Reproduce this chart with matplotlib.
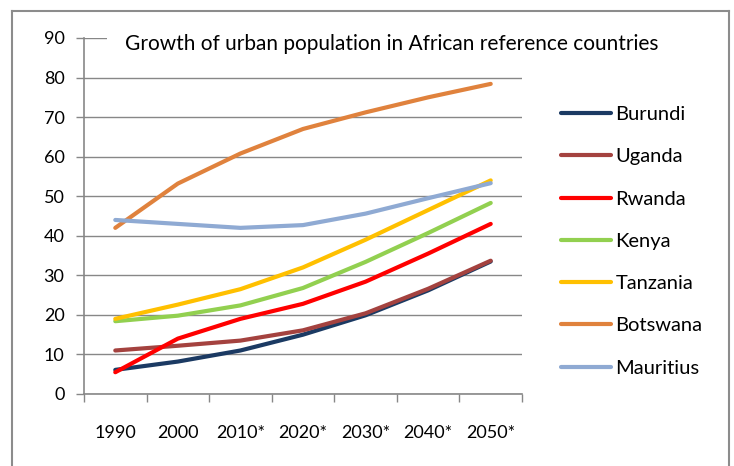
import matplotlib
matplotlib.use("Agg")
import matplotlib.pyplot as plt
from matplotlib.lines import Line2D

plt.rcParams['font.family'] = ['Lato', 'DejaVu Sans']

years = ["1990", "2000", "2010*", "2020*", "2030*", "2040*", "2050*"]
countries = ["Burundi", "Uganda", "Rwanda", "Kenya", "Tanzania", "Botswana", "Mauritius"]
burundi = [6.1, 8.2, 11.0, 15.0, 19.9, 26.2, 33.5]
uganda = [11.0, 12.2, 13.5, 16.1, 20.4, 26.6, 33.7]
rwanda = [5.5, 14.0, 19.0, 22.8, 28.4, 35.5, 43.0]
kenya = [18.4, 19.8, 22.4, 26.8, 33.4, 40.7, 48.3]
tanzania = [19.0, 22.6, 26.5, 32.0, 39.0, 46.5, 54.0]
botswana = [42.0, 53.2, 60.8, 67.0, 71.2, 75.0, 78.4]
mauritius = [44.0, 43.0, 42.0, 42.7, 45.6, 49.5, 53.3]
series = [burundi, uganda, rwanda, kenya, tanzania, botswana, mauritius]
colors = ["#1B3A63", "#A4423F", "#FF0000", "#92D050", "#FFC000", "#E0823D", "#8FAAD3"]
y_ticks = [0, 10, 20, 30, 40, 50, 60, 70, 80, 90]
title = "Growth of urban population in African reference countries"

W, H = 734, 466
fig = plt.figure(figsize=(W / 100, H / 100), dpi=100)
ax = fig.add_axes([84 / W, 1 - 394 / H, (522 - 84) / W, (394 - 38) / H])

x = list(range(len(years)))
for vals, name, c in zip(series, countries, colors):
    ax.plot(x, vals, color=c, lw=3.0, solid_capstyle='round', label=name, zorder=3)

grid_c = "#878787"
ax.set_xlim(-0.5, len(years) - 0.5)
ax.set_ylim(0, 90)
ax.set_yticks(y_ticks)
ax.set_xticks(x)
ax.set_xticklabels(years)
ax.set_xticks([i - 0.5 for i in range(len(years) + 1)], minor=True)
ax.tick_params(axis='x', which='major', length=0, pad=22, labelsize=13)
ax.tick_params(axis='x', which='minor', length=6, width=1, color=grid_c)
ax.tick_params(axis='y', length=6, width=1, color=grid_c, pad=8, labelsize=13)
ax.yaxis.grid(True, color=grid_c, lw=1)
ax.set_axisbelow(True)
for s in ['top', 'right']:
    ax.spines[s].set_visible(False)
for s in ['left', 'bottom']:
    ax.spines[s].set_color(grid_c)
    ax.spines[s].set_linewidth(1.2)

# Title box sits over the top gridline
fig.patches.append(plt.Rectangle((107 / W, 1 - 54 / H), (540 - 107) / W, 24 / H,
                                 transform=fig.transFigure, facecolor='white',
                                 edgecolor='none', zorder=4))
fig.text(392 / W, 1 - 44 / H, title, ha='center', va='center', fontsize=15, zorder=5)

leg = ax.legend(loc='upper left', bbox_to_anchor=(561 / W, 1 - 106 / H),
                bbox_transform=fig.transFigure, frameon=False, fontsize=14.5,
                handlelength=2.5, handletextpad=0.2, labelspacing=1.25,
                borderpad=0, borderaxespad=0)

# Outer chart frame
frame_c = "#8C8C8C"
fig.add_artist(Line2D([12 / W, 12 / W], [0, 1 - 11 / H], color=frame_c, lw=1.5))
fig.add_artist(Line2D([12 / W, 729 / W], [1 - 11 / H, 1 - 11 / H], color=frame_c, lw=1.5))
fig.add_artist(Line2D([729 / W, 729 / W], [0, 1 - 11 / H], color=frame_c, lw=1.5))

fig.savefig("out.png", dpi=100)
